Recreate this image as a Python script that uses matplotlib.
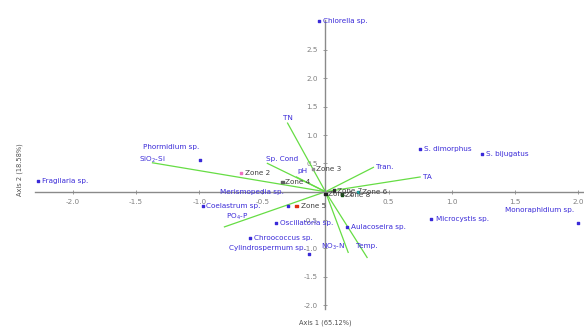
import matplotlib
matplotlib.use("Agg")
import matplotlib.pyplot as plt

# species scores (axis 1, axis 2)
species = ["Chlorella sp.", "Phormidium sp.", "Fragilaria sp.", "S. dimorphus",
           "S. bijugatus", "Microcystis sp.", "Monoraphidium sp.", "Aulacoseira sp.",
           "Oscillatoria sp.", "Chroococcus sp.", "Cylindrospermum sp.",
           "Coelastrum sp.", "Merismopedia sp."]
sp_x = [-0.05, -0.99, -2.28, 0.75, 1.24, 0.84, 2.00, 0.17, -0.39, -0.60, -0.13, -0.97, -0.30]
sp_y = [3.01, 0.56, 0.19, 0.75, 0.66, -0.48, -0.55, -0.62, -0.55, -0.82, -1.09, -0.25, -0.25]

# environmental variable arrows
env = ["TN", "SiO$_2$-Si", "Sp. Cond", "pH", "Tran.", "TA", "PO$_4$-P", "NO$_3$-N", "Temp."]
env_x = [-0.30, -1.37, -0.46, -0.23, 0.38, 0.75, -0.80, 0.18, 0.33]
env_y = [1.21, 0.51, 0.50, 0.26, 0.43, 0.26, -0.62, -1.07, -1.16]

# sample (zone) scores
zones = ["Zone 2", "Zone 3", "Zone 4", "Zone 5", "Zone 1", "Zone 7", "Zone 8", "Zone 6"]
zone_x = [-0.67, -0.10, -0.34, -0.23, 0.00, 0.07, 0.13, 0.26]
zone_y = [0.33, 0.40, 0.17, -0.25, -0.04, 0.02, -0.05, 0.00]

x_ticks = [-2.0, -1.5, -1.0, -0.5, 0.5, 1.0, 1.5, 2.0]
y_ticks = [-2.0, -1.5, -1.0, -0.5, 0.5, 1.0, 1.5, 2.0, 2.5]

# label offsets in points: (dx, dy, ha)
sp_off = [(3, 0, "left"), (-1, 9, "right"), (3, 0, "left"), (3, 0, "left"),
          (3, 0, "left"), (3, 0, "left"), (-3, 9, "right"), (3, 0, "left"),
          (3, 0, "left"), (3, 0, "left"), (-2, 4, "right"),
          (2, 0, "left"), (-3, 10, "right")]
env_off = [(0, 4, "center"), (0, 2, "center"), (-1, 3, "left"), (1, 4, "left"),
           (2, 0, "left"), (2, 0, "left"), (1, 7, "left"), (-2, 4, "right"),
           (0, 8, "center")]
zone_off = [(3, 0, "left"), (2, 0, "left"), (2, 0, "left"), (3, 0, "left"),
            (2, 0, "left"), (2, 0, "left"), (2, 0, "left"), (3, 0, "left")]
zone_col = ["#f070c0", "#909090", "#606060", "#e03010", "#202020", "#303030",
            "#105010", "#20a0a0"]

blue = "#3a2ad8"
green = "#66dd44"
axcol = "#8a8a8a"
fs = 5.2

fig = plt.figure(figsize=(5.84, 3.29), dpi=100)
ax = fig.add_axes([0, 0, 1, 1])
ax.set_xlim(-2.578, 2.048)
ax.set_ylim(-2.421, 3.381)

for s in ["top", "right"]:
    ax.spines[s].set_visible(False)
ax.spines["left"].set_position(("data", 0))
ax.spines["bottom"].set_position(("data", 0))
ax.spines["left"].set_bounds(-2.07, 3.03)
ax.spines["bottom"].set_bounds(-2.30, 2.05)
for s in ["left", "bottom"]:
    ax.spines[s].set_color(axcol)
    ax.spines[s].set_linewidth(1.0)
ax.set_xticks(x_ticks)
ax.set_yticks(y_ticks)
ax.set_xticklabels([f"{v:.1f}" for v in x_ticks])
ax.set_yticklabels([f"{v:.1f}" for v in y_ticks])
ax.tick_params(axis="both", direction="inout", length=3, width=0.6, color=axcol,
               labelsize=fs, labelcolor="#808080", pad=4)

# arrows for environmental variables
for x, y in zip(env_x, env_y):
    ax.plot([0, x], [0, y], color=green, lw=0.9, zorder=2)
for name, x, y, (dx, dy, ha) in zip(env, env_x, env_y, env_off):
    ax.annotate(name, (x, y), xytext=(dx, dy), textcoords="offset points",
                ha=ha, va="center", fontsize=fs, color=blue, zorder=4)

# samples
ax.scatter(zone_x, zone_y, s=3, marker="s", c=zone_col, zorder=3)
for name, x, y, (dx, dy, ha) in zip(zones, zone_x, zone_y, zone_off):
    ax.annotate(name, (x, y), xytext=(dx, dy), textcoords="offset points",
                ha=ha, va="center", fontsize=fs, color="#404040", zorder=4)

# species
ax.scatter(sp_x, sp_y, s=3, marker="s", color=blue, zorder=3)
for name, x, y, (dx, dy, ha) in zip(species, sp_x, sp_y, sp_off):
    ax.annotate(name, (x, y), xytext=(dx, dy), textcoords="offset points",
                ha=ha, va="center", fontsize=fs, color=blue, zorder=4)

fig.text(325 / 584, 1 - 323 / 329, "Axis 1 (65.12%)", fontsize=fs - 0.4,
         color="#505050", ha="center", va="center")
fig.text(20 / 584, 1 - 170 / 329, "Axis 2 (18.58%)", fontsize=fs - 0.4,
         color="#505050", ha="center", va="center", rotation=90)

fig.savefig("out.png", dpi=100)
